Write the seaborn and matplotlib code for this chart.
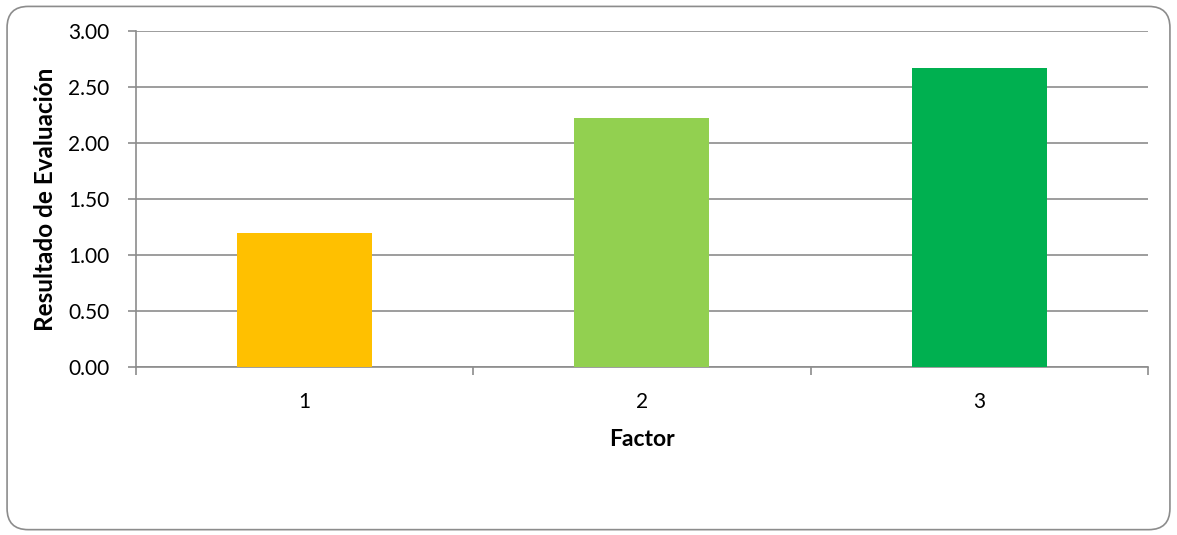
import matplotlib
matplotlib.use("Agg")
import matplotlib.pyplot as plt
from matplotlib.patches import FancyBboxPatch
import seaborn as sns
import pandas as pd

factors = ["1", "2", "3"]
scores = [1.20, 2.22, 2.67]
bar_colors = ["#FFC000", "#92D050", "#00B050"]
y_ticks = [0.0, 0.5, 1.0, 1.5, 2.0, 2.5, 3.0]

sns.set_style("white")
plt.rcParams["font.family"] = ["Lato", "DejaVu Sans"]
plt.rcParams["text.color"] = "black"
plt.rcParams["axes.labelcolor"] = "black"

df = pd.DataFrame({"Factor": factors, "Resultado": scores})

fig = plt.figure(figsize=(11.77, 5.35), dpi=100)
ax = fig.add_axes([0.1153, 0.3134, 0.8601, 0.6292])

sns.barplot(data=df, x="Factor", y="Resultado", hue="Factor",
            palette=bar_colors, width=0.4, legend=False, ax=ax,
            saturation=1, linewidth=0, zorder=3)

grid_c = "#8c8c8c"
ax.set_ylim(0, 3.0)
ax.set_xlim(-0.5, 2.5)
ax.set_yticks(y_ticks)
ax.set_yticklabels([f"{v:.2f}" for v in y_ticks], fontsize=15)
ax.yaxis.grid(True, color=grid_c, linewidth=1.2, zorder=0)
ax.set_axisbelow(True)

# category boundaries carry the tick marks, centres carry the labels
ax.set_xticks([-0.5, 0.5, 1.5, 2.5])
ax.set_xticklabels([])
ax.set_xticks([0, 1, 2], minor=True)
ax.set_xticklabels(factors, minor=True, fontsize=15)
ax.tick_params(axis="x", which="major", bottom=True, length=6, width=1.2,
               color=grid_c, direction="out")
ax.tick_params(axis="x", which="minor", bottom=True, length=0, pad=18,
               labelcolor="black")
ax.tick_params(axis="y", left=True, length=6, width=1.2, color=grid_c,
               direction="out", pad=13, labelcolor="black")

for side in ("top", "right"):
    ax.spines[side].set_visible(False)
for side in ("left", "bottom"):
    ax.spines[side].set_color(grid_c)
    ax.spines[side].set_linewidth(1.2)

ax.set_xlabel("Factor", fontsize=16.5, fontweight="bold", labelpad=12)
ax.set_ylabel("Resultado de Evaluación", fontsize=17.5, fontweight="bold", labelpad=8)

frame = FancyBboxPatch((0.006, 0.01), 0.988, 0.978,
                       boxstyle="round,pad=0,rounding_size=0.018",
                       transform=fig.transFigure, facecolor="none",
                       edgecolor="#8c8c8c", linewidth=1.2,
                       mutation_aspect=1177 / 535)
fig.patches.append(frame)

fig.savefig("out.png", dpi=100, facecolor="white")
